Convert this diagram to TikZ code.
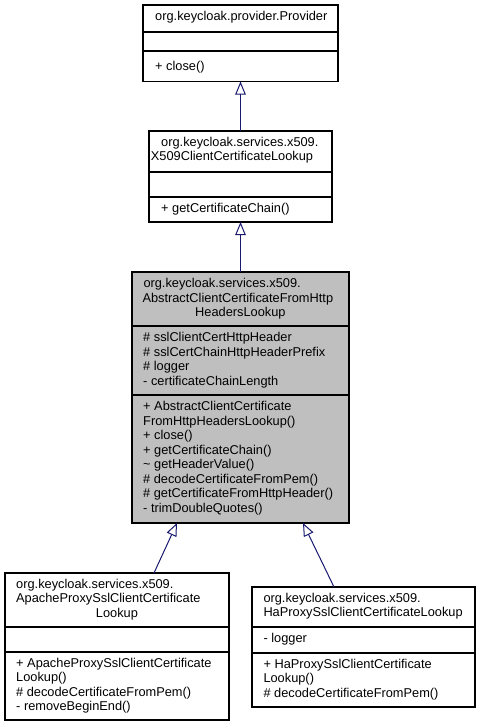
\documentclass[tikz,border=0pt]{standalone}
\usepackage{fontspec}
\setmainfont{Liberation Sans}
\usetikzlibrary{arrows.meta}
\usetikzlibrary{positioning}
\definecolor{edgeblue}{RGB}{25,25,112}
\definecolor{classgray}{RGB}{191,191,191}
\tikzstyle{classbox}=[rectangle,draw=black,line width=1.1pt,inner sep=0pt,outer sep=0pt]
\tikzstyle{member}=[anchor=west,inner sep=0pt,text height=9.5pt,text depth=2.7pt,font=\fontsize{12.8}{14.5}\selectfont]
\tikzstyle{divider}=[draw=black,line width=1.1pt]
\tikzstyle{inherit}=[draw=edgeblue,line width=1pt,-{Triangle[open,length=13pt,width=10.5pt]}]

\begin{document}
\begin{tikzpicture}[x=1pt, y=-1pt]

  \useasboundingbox (0,0) rectangle (482,728);

  % class boxes
  \node[classbox, minimum width=195pt, minimum height=76.5pt] (provider) at (240.5, 43.25) {};
  \node[classbox, minimum width=183pt, minimum height=91pt] (lookup) at (240.5, 176.5) {};
  \node[classbox, fill=classgray, minimum width=217pt, minimum height=251pt] (abstract) at (240.5, 397.5) {};
  \node[classbox, minimum width=224pt, minimum height=147pt] (apache) at (117, 646.5) {};
  \node[classbox, minimum width=223pt, minimum height=120pt] (haproxy) at (363.5, 647) {};

  \foreach \cls/\y in {provider/32, provider/51, lookup/172, lookup/197, abstract/326, abstract/395,
                       apache/627, apache/652, haproxy/627, haproxy/653}
     \draw[divider] (\cls.west |- 0,\y) -- (\cls.east |- 0,\y);

  % titles
  \foreach \name/\x/\y/\label in {pt1/155/17/{org.keycloak.provider.Provider},
       lt1/161/143/{org.keycloak.services.x509.}, lt2/150.7/157.5/{X509ClientCertificateLookup},
       at1/143.3/284.3/{org.keycloak.services.x509.}, at2/142.3/298.8/{AbstractClientCertificateFromHttp},
       at3/195/313.3/{HeadersLookup},
       apt1/16/585/{org.keycloak.services.x509.}, apt2/16/599.5/{ApacheProxySslClientCertificate},
       apt3/95.7/614/{Lookup},
       ht1/263.3/599/{org.keycloak.services.x509.}, ht2/263.3/613.5/{HaProxySslClientCertificateLookup}}
     \node[member] (\name) at (\x, \y) {\label};

  % attributes
  \foreach \name/\x/\y/\label in {aa1/143/338.3/{\# sslClientCertHttpHeader},
       aa2/143/352.8/{\# sslCertChainHttpHeaderPrefix}, aa3/143/367.3/{\# logger},
       aa4/143/381.8/{- certificateChainLength}, ha1/263.3/639/{- logger}}
     \node[member] (\name) at (\x, \y) {\label};

  % operations
  \foreach \name/\x/\y/\label in {pm1/155/67/{+ close()}, lm1/161/209/{+ getCertificateChain()},
       am1/143/407.3/{+ AbstractClientCertificate}, am2/143/421.8/{FromHttpHeadersLookup()},
       am3/143/436.3/{+ close()}, am4/143/450.8/{+ getCertificateChain()},
       am5/143/465.3/{\textasciitilde{} getHeaderValue()}, am6/143/479.8/{\# decodeCertificateFromPem()},
       am7/143/494.3/{\# getCertificateFromHttpHeader()}, am8/143/508.8/{- trimDoubleQuotes()},
       apm1/16/664/{+ ApacheProxySslClientCertificate}, apm2/16/678.5/{Lookup()},
       apm3/16/693/{\# decodeCertificateFromPem()}, apm4/16/707.5/{- removeBeginEnd()},
       hm1/263.3/665/{+ HaProxySslClientCertificate}, hm2/263.3/679.5/{Lookup()},
       hm3/263.3/694/{\# decodeCertificateFromPem()}}
     \node[member] (\name) at (\x, \y) {\label};

  % generalisation
  \draw[inherit] (lookup.north) -- (provider.south);
  \draw[inherit] (abstract.north) -- (lookup.south);
  \draw[inherit] ([xshift=37pt]apache.north) -- ([xshift=-63.5pt]abstract.south);
  \draw[inherit] ([xshift=-29.5pt]haproxy.north) -- ([xshift=62.5pt]abstract.south);

\end{tikzpicture}
\end{document}
